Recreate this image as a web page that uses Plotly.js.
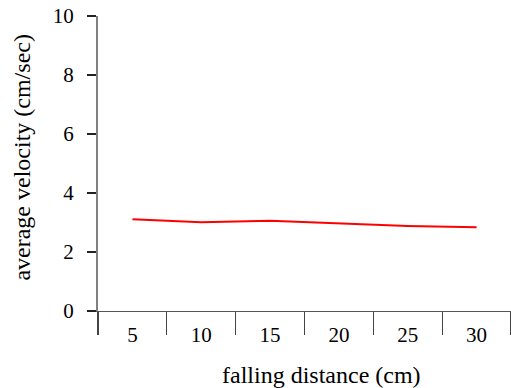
<!DOCTYPE html>
<html>
<head>
<meta charset="utf-8">
<script src="https://cdn.plot.ly/plotly-3.0.1.min.js"></script>
<style>html,body{margin:0;padding:0;background:#fff;}#chart{width:511px;height:388px;}</style>
</head>
<body>
<div id="chart"></div>
<script>
const distances = ['5', '10', '15', '20', '25', '30'];
const velocities = [3.11, 3.01, 3.06, 2.98, 2.88, 2.84];
const yTicks = [0, 2, 4, 6, 8, 10];
const xTitle = 'falling distance (cm)';
const yTitle = 'average velocity (cm/sec)';

const fam = 'Times New Roman, Liberation Serif, Times, serif';

const data = [{
  x: distances,
  y: velocities,
  type: 'scatter',
  mode: 'lines',
  line: {color: '#ff0000', width: 2},
  hoverinfo: 'skip'
}];

const layout = {
  width: 511,
  height: 388,
  margin: {l: 98, r: 0, t: 16, b: 77},
  paper_bgcolor: '#fff',
  plot_bgcolor: '#fff',
  showlegend: false,
  font: {family: fam, color: '#000'},
  xaxis: {
    type: 'category',
    range: [-0.5, 5.5],
    tickson: 'boundaries',
    ticks: 'outside',
    ticklen: 23,
    tickwidth: 1.3,
    tickcolor: '#444',
    ticklabelstandoff: 5,
    tickfont: {family: fam, size: 21, color: '#000'},
    showline: true,
    linecolor: '#555',
    linewidth: 1,
    showgrid: false,
    zeroline: false
  },
  yaxis: {
    range: [0, 10],
    tickvals: yTicks,
    ticktext: yTicks.map(String),
    ticks: 'outside',
    ticklen: 9,
    tickwidth: 1.3,
    tickcolor: '#222',
    ticklabelstandoff: 9,
    tickfont: {family: fam, size: 21, color: '#000'},
    showline: true,
    linecolor: '#808080',
    linewidth: 2,
    showgrid: false,
    zeroline: false
  },
  yaxis2: {
    overlaying: 'y',
    side: 'left',
    range: [0, 10],
    tickvals: yTicks,
    ticks: 'inside',
    ticklen: 9,
    tickwidth: 1.3,
    tickcolor: '#222',
    showticklabels: false,
    showline: false,
    showgrid: false,
    zeroline: false
  },
  annotations: [
    {
      text: xTitle, xref: 'paper', yref: 'paper', x: 0.54, y: 0,
      xanchor: 'center', yanchor: 'middle', yshift: -64, showarrow: false,
      font: {family: fam, size: 24, color: '#000'}
    },
    {
      text: yTitle, xref: 'paper', yref: 'paper', x: 0, y: 0.52,
      xanchor: 'center', yanchor: 'middle', xshift: -76, textangle: -90, showarrow: false,
      font: {family: fam, size: 24, color: '#000'}
    }
  ]
};

Plotly.newPlot('chart', data, layout, {displayModeBar: false, staticPlot: true});
</script>
</body>
</html>
